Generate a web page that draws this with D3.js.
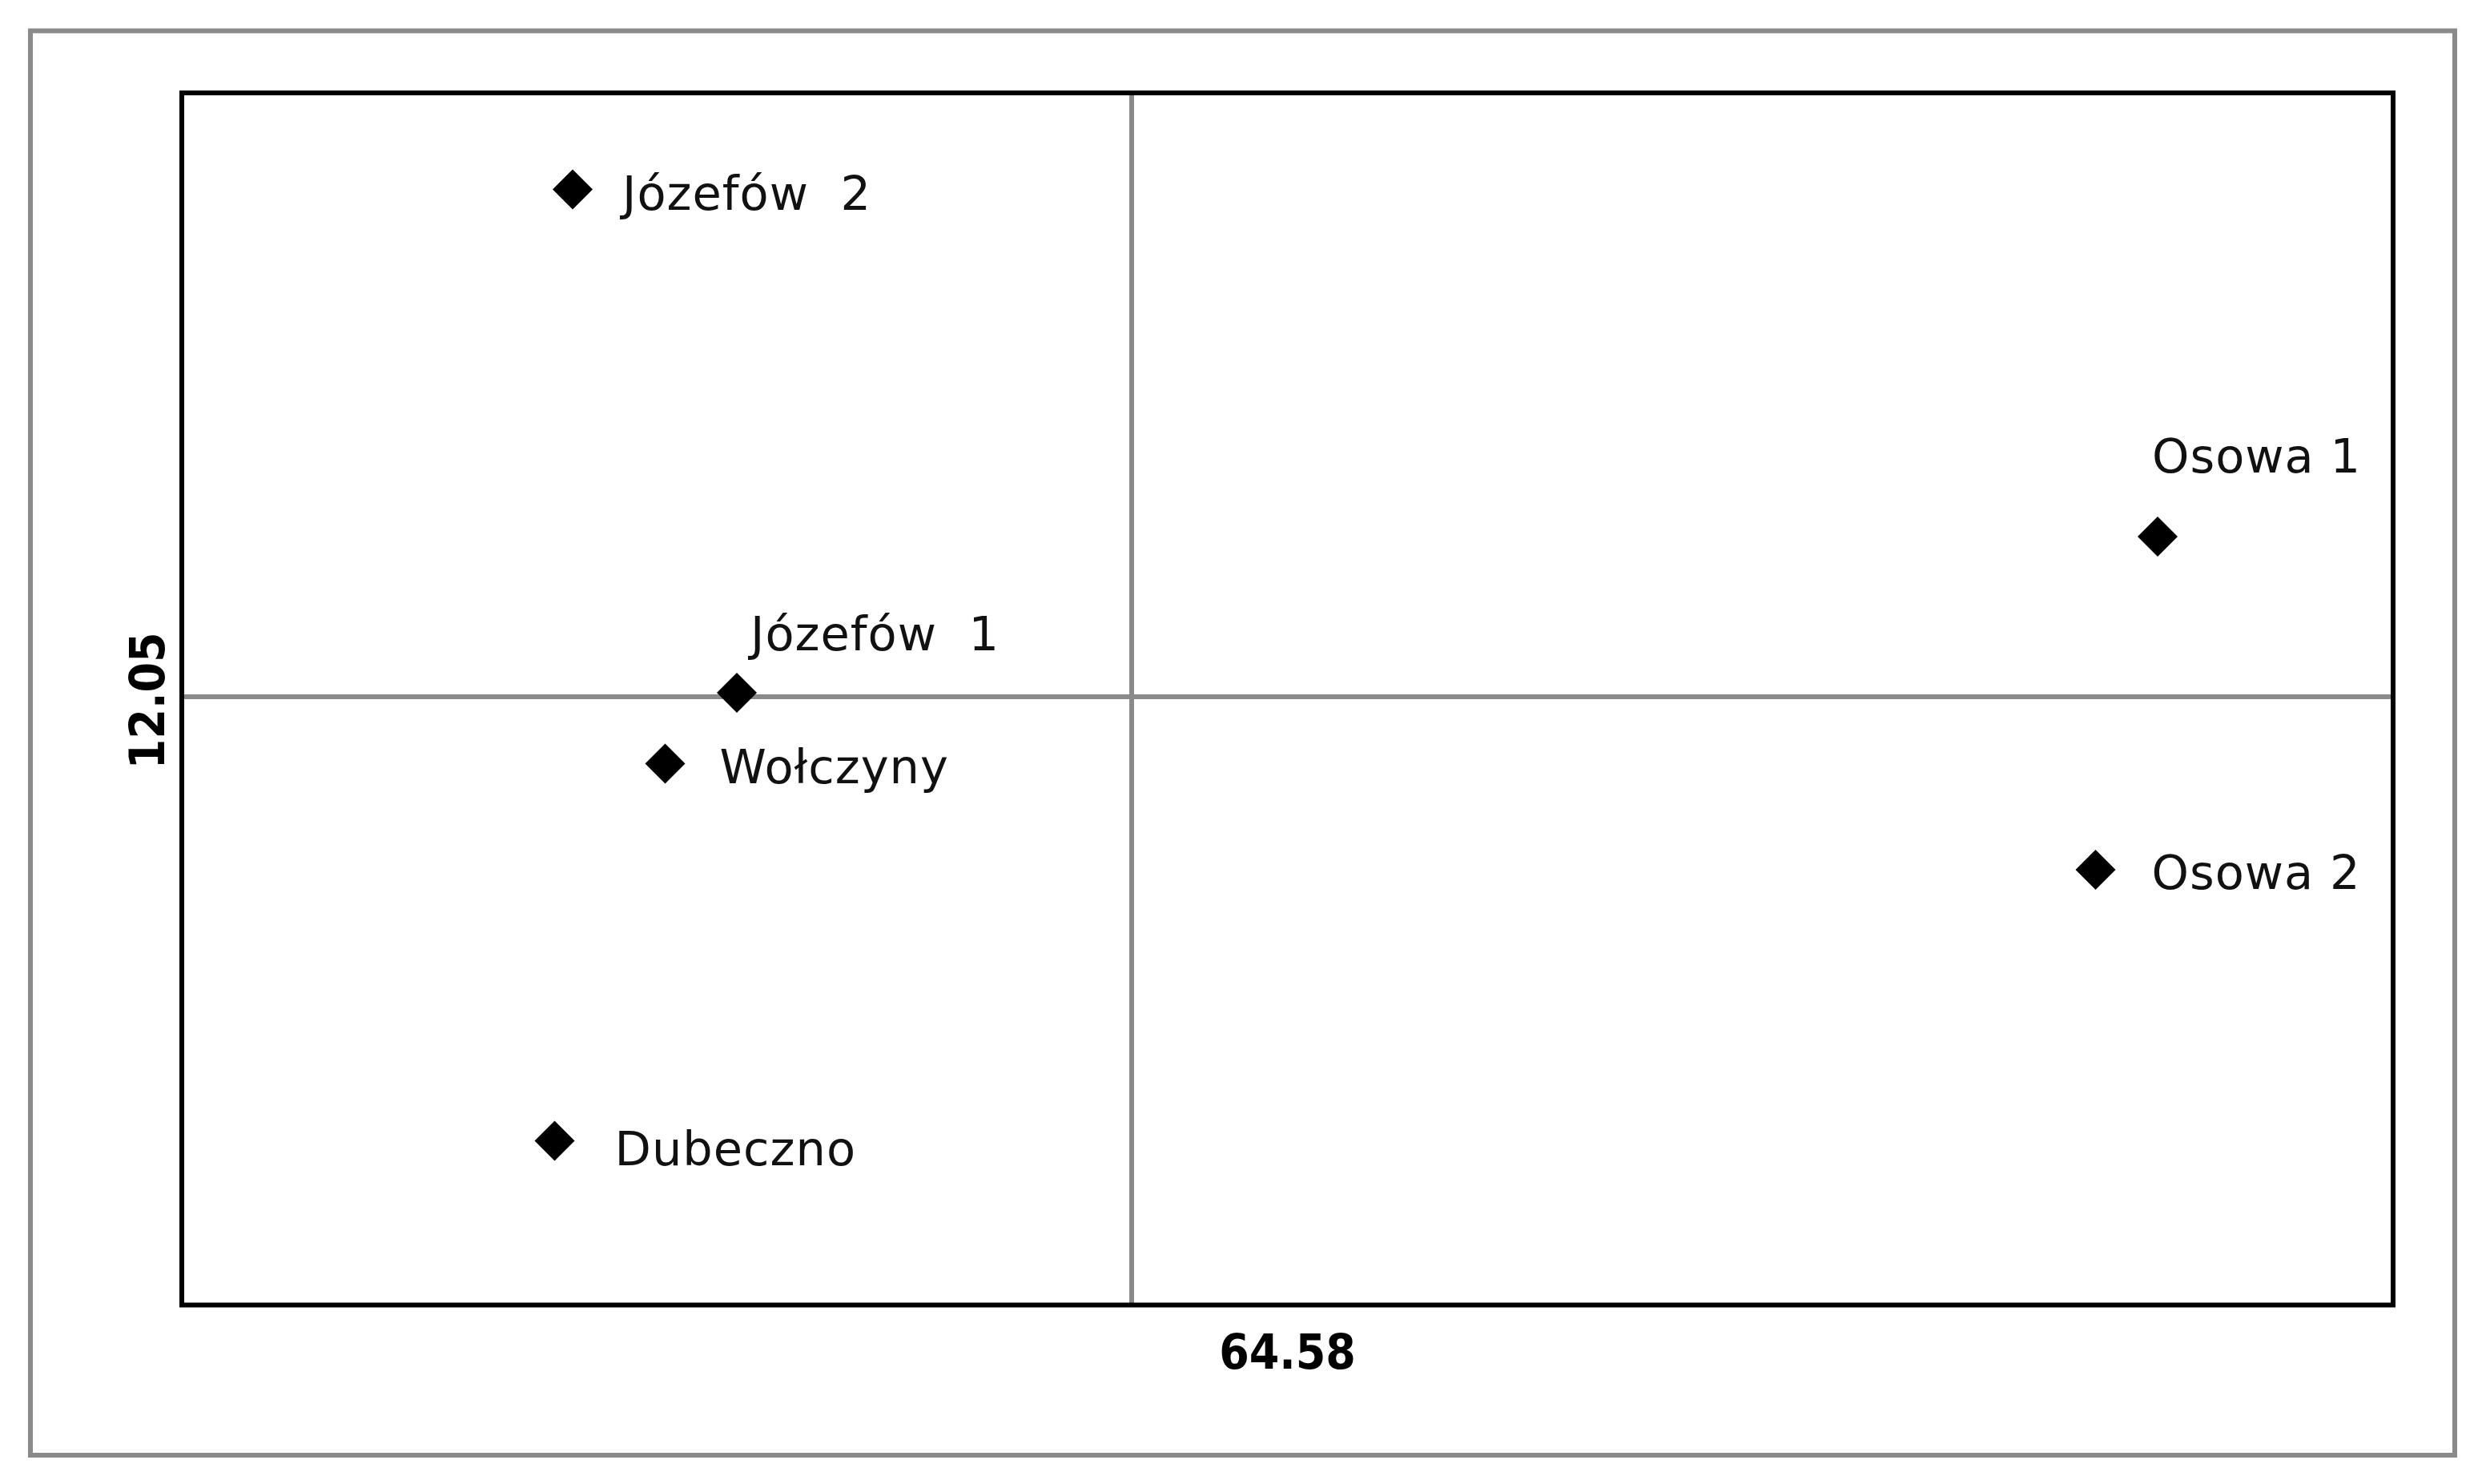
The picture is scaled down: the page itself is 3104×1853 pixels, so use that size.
<!DOCTYPE html>
<html>
<head>
<meta charset="utf-8">
<script src="https://cdn.jsdelivr.net/npm/d3@7"></script>
<style>
  html, body { margin: 0; padding: 0; background: #fff; }
  svg { display: block; }
</style>
</head>
<body>
<script>
// ---- data ----
const sites   = ["Józefów  2", "Józefów  1", "Wołczyny", "Dubeczno", "Osowa 1", "Osowa 2"];
const xValues = [50.62, 54.72, 52.93, 50.17, 90.20, 88.65];
const yValues = [24.72, 12.15, 10.38, 0.96, 16.05, 7.73];
const xMean = 64.58;
const yMean = 12.05;
const xLabel = "64.58";
const yLabel = "12.05";
// label placement (px, relative to marker)
const labelNudges = [[62, 25], [17, -53], [68, 24], [75, 30], [-7, -80], [70, 24]];

// ---- layout ----
const W = 3104, H = 1853;
const frame = { left: 227, top: 116, right: 2988, bottom: 1629.5 };

const svg = d3.select("body").append("svg").attr("width", W).attr("height", H);
svg.append("rect").attr("width", W).attr("height", H).attr("fill", "#fff");

// outer border
svg.append("rect").attr("x", 38).attr("y", 38.5).attr("width", 3065 - 38).attr("height", 1817 - 38.5)
  .attr("fill", "none").attr("stroke", "#8a8a8a").attr("stroke-width", 6);

const x = d3.scaleLinear().domain([40.86, 96.08]).range([frame.left, frame.right]);
const y = d3.scaleLinear().domain([-3.14, 27.13]).range([frame.bottom, frame.top]);

// crosshair lines at means
svg.append("line").attr("x1", x(xMean)).attr("x2", x(xMean)).attr("y1", frame.top).attr("y2", frame.bottom)
  .attr("stroke", "#8a8a8a").attr("stroke-width", 6);
svg.append("line").attr("x1", frame.left).attr("x2", frame.right).attr("y1", y(yMean)).attr("y2", y(yMean))
  .attr("stroke", "#8a8a8a").attr("stroke-width", 6);

// plot frame
svg.append("rect").attr("x", frame.left).attr("y", frame.top)
  .attr("width", frame.right - frame.left).attr("height", frame.bottom - frame.top)
  .attr("fill", "none").attr("stroke", "#000").attr("stroke-width", 6);

const data = sites.map((s, i) => ({ name: s, x: xValues[i], y: yValues[i], nudge: labelNudges[i] }));

const sym = d3.symbol().type(d3.symbolSquare).size(1250);
svg.selectAll("path.pt").data(data).enter().append("path")
  .attr("class", "pt")
  .attr("d", sym)
  .attr("transform", d => `translate(${x(d.x)},${y(d.y)}) rotate(45)`)
  .attr("fill", "#000");

svg.selectAll("text.lbl").data(data).enter().append("text")
  .attr("class", "lbl")
  .attr("x", d => x(d.x) + d.nudge[0])
  .attr("y", d => y(d.y) + d.nudge[1])
  .style("white-space", "pre")
  .attr("font-family", "'DejaVu Sans', Verdana, sans-serif")
  .attr("font-size", 59)
  .attr("letter-spacing", 1)
  .attr("fill", "#111")
  .text(d => d.name);

// axis value labels
svg.append("text")
  .attr("x", (frame.left + frame.right) / 2).attr("y", 1709)
  .attr("text-anchor", "middle")
  .attr("font-family", "'DejaVu Sans Condensed', 'DejaVu Sans', sans-serif")
  .attr("font-weight", "bold").attr("font-size", 60).attr("fill", "#000")
  .text(xLabel);

svg.append("text")
  .attr("transform", `translate(205, ${(frame.top + frame.bottom) / 2 + 2}) rotate(-90)`)
  .attr("text-anchor", "middle")
  .attr("font-family", "'DejaVu Sans Condensed', 'DejaVu Sans', sans-serif")
  .attr("font-weight", "bold").attr("font-size", 60).attr("fill", "#000")
  .text(yLabel);
</script>
</body>
</html>
